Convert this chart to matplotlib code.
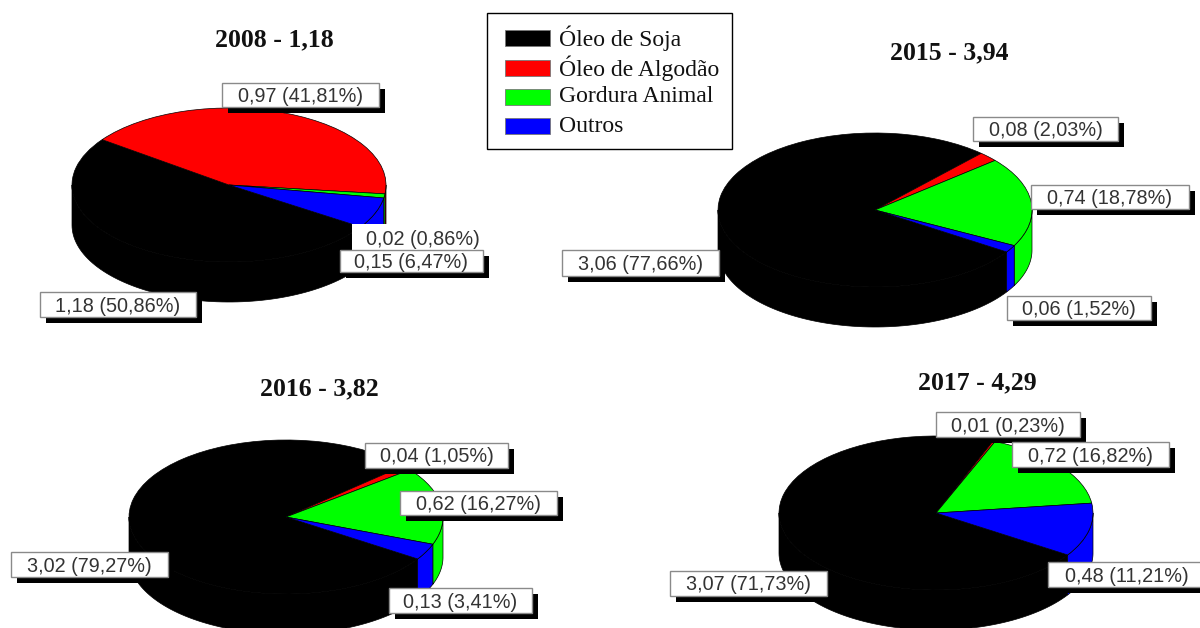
import numpy as np
import matplotlib
matplotlib.use("Agg")
from matplotlib import pyplot as plt
from matplotlib.patches import Rectangle

LARGURA = 1200
ALTURA = 628

anos = ["2008", "2015", "2016", "2017"]
totais = [1.18, 3.94, 3.82, 4.29]
series = ["Óleo de Soja", "Óleo de Algodão", "Gordura Animal", "Outros"]
cores = ["#000000", "#ff0000", "#00ff00", "#0000ff"]

# producao por ano, na ordem de series
valores_2008 = [1.18, 0.97, 0.02, 0.15]
valores_2015 = [3.06, 0.08, 0.74, 0.06]
valores_2016 = [3.02, 0.04, 0.62, 0.13]
valores_2017 = [3.07, 0.01, 0.72, 0.48]

pct_2008 = [50.86, 41.81, 0.86, 6.47]
pct_2015 = [77.66, 2.03, 18.78, 1.52]
pct_2016 = [79.27, 1.05, 16.27, 3.41]
pct_2017 = [71.73, 0.23, 16.82, 11.21]

todos_valores = [valores_2008, valores_2015, valores_2016, valores_2017]
todos_pct = [pct_2008, pct_2015, pct_2016, pct_2017]

# centro de cada pizza em pixels
centros = [(229, 185), (875, 210), (286, 517), (936, 513)]
raio_x = 157
raio_y = 77
profundidade = 40
inicio = -33

# posicao do titulo de cada pizza
pos_titulos = [(274, 40), (949, 53), (319, 389), (977, 383)]

# caixas dos rotulos (x0, y0, x1, y1) na ordem de series
caixas = [
    [(40, 292, 196, 317), (222, 83, 379, 107), (352, 224, 494, 250), (340, 250, 483, 272)],
    [(562, 250, 719, 276), (973, 117, 1118, 141), (1031, 185, 1189, 209), (1007, 296, 1151, 320)],
    [(11, 552, 168, 577), (365, 443, 508, 468), (400, 491, 557, 515), (389, 588, 532, 613)],
    [(670, 571, 827, 596), (936, 412, 1080, 437), (1012, 442, 1169, 467), (1048, 562, 1205, 587)],
]


def num(v):
    return f"{v:.2f}".replace(".", ",")


def desenha_parede(ax, t1, t2, cor):
    # parte lateral da fatia, so a metade da frente aparece
    for volta in (-360, 0, 360, 720):
        a = max(t1 + volta, 180)
        b = min(t2 + volta, 360)
        if b <= a:
            continue
        t = np.radians(np.linspace(a, b, 80))
        x = np.cos(t)
        y = np.sin(t)
        d = profundidade / raio_y
        ax.fill(np.r_[x, x[::-1]], np.r_[y, y[::-1] - d], facecolor=cor,
                edgecolor="black", linewidth=0.5, zorder=0.5, clip_on=False)


fig = plt.figure(figsize=(LARGURA / 100, ALTURA / 100), dpi=100, facecolor="white")

for i in range(len(anos)):
    cx, cy = centros[i]
    ax = fig.add_axes([(cx - raio_x) / LARGURA, 1 - (cy + raio_y) / ALTURA,
                       2 * raio_x / LARGURA, 2 * raio_y / ALTURA])
    fatias, _ = ax.pie(todos_pct[i], colors=cores, startangle=inicio, counterclock=False,
                       wedgeprops={"edgecolor": "black", "linewidth": 0.5, "clip_on": False})
    for fatia, cor in zip(fatias, cores):
        desenha_parede(ax, fatia.theta1, fatia.theta2, cor)
    ax.set_aspect("auto")
    ax.set_xlim(-1, 1)
    ax.set_ylim(-1, 1)
    ax.axis("off")

# camada de cima com titulos, rotulos e legenda, em pixels
top = fig.add_axes([0, 0, 1, 1], zorder=5)
top.set_xlim(0, LARGURA)
top.set_ylim(ALTURA, 0)
top.axis("off")
top.patch.set_alpha(0)

for i in range(len(anos)):
    x, y = pos_titulos[i]
    top.text(x, y, f"{anos[i]} - {num(totais[i])}", family="Liberation Serif", weight="bold",
             fontsize=18.5, color="#111111", ha="center", va="center")

    for j in range(len(series)):
        x0, y0, x1, y1 = caixas[i][j]
        # o rotulo de 0,02 em 2008 fica sem moldura
        sem_moldura = i == 0 and j == 2
        if not sem_moldura:
            top.add_patch(Rectangle((x0 + 6, y0 + 6), x1 - x0, y1 - y0, facecolor="black", edgecolor="none"))
        top.add_patch(Rectangle((x0, y0), x1 - x0, y1 - y0, facecolor="white",
                                edgecolor="none" if sem_moldura else "#8a8a8a", linewidth=1.0))
        rotulo = f"{num(todos_valores[i][j])} ({num(todos_pct[i][j])}%)"
        desvio = 2.5 if sem_moldura else 1.5
        top.text((x0 + x1) / 2, (y0 + y1) / 2 + desvio, rotulo, family="Liberation Sans", fontsize=14.3,
                 color="#333333", ha="center", va="center", clip_on=True)

# legenda
top.add_patch(Rectangle((487, 13), 245, 136, facecolor="white", edgecolor="black", linewidth=1.0))
pos_legenda = [38, 68, 97, 126]
for nome, cor, y in zip(series, cores, pos_legenda):
    top.add_patch(Rectangle((505, y - 8), 45, 16, facecolor=cor, edgecolor="#777777", linewidth=0.6))
    top.text(559, y, nome, family="Liberation Serif", fontsize=17, color="#111111",
             ha="left", va="center")

fig.savefig("out.png", dpi=100)
